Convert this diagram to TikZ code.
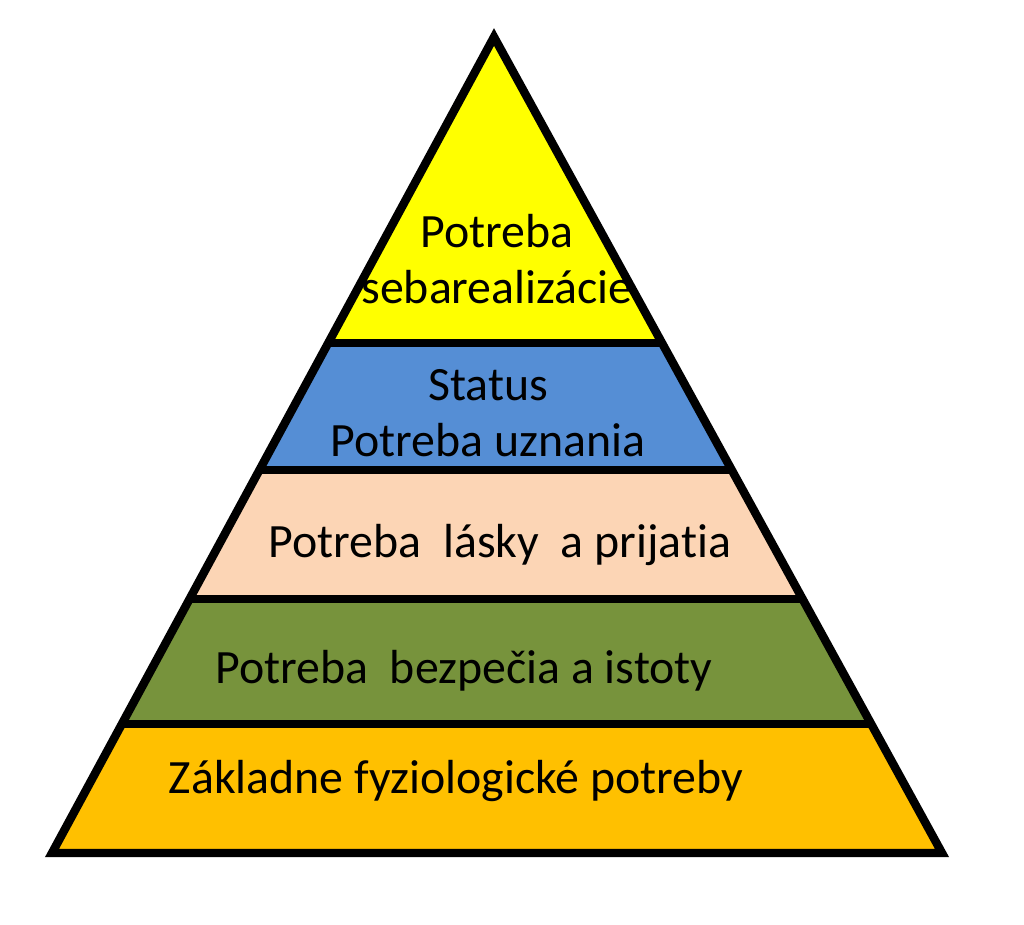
\documentclass[tikz,border=0pt]{standalone}
\usepackage{fontspec}
\setmainfont{Carlito}[Ligatures=NoCommon]
\definecolor{selfcol}{HTML}{FFFF00}
\definecolor{statcol}{HTML}{558ED5}
\definecolor{lovecol}{HTML}{FCD5B5}
\definecolor{safecol}{HTML}{77933C}
\definecolor{basecol}{HTML}{FFC000}
\tikzset{
	edge/.style={line width=2.4pt},
	lbl/.style={font=\fontsize{13.6}{16}\selectfont, align=center, text=black, inner sep=0pt}
}
\begin{document}
\begin{tikzpicture}[x=0.01cm,y=0.01cm]
				\useasboundingbox (0,0) rectangle (1024,924);
				\coordinate (a0) at (494,887);
				\coordinate (l1) at (328,581);
				\coordinate (r1) at (662,581);
				\coordinate (l2) at (260,454);
				\coordinate (r2) at (732,454);
				\coordinate (l3) at (190,325);
				\coordinate (r3) at (802,325);
				\coordinate (l4) at (122,200);
				\coordinate (r4) at (871,200);
				\coordinate (l5) at (52,71);
				\coordinate (r5) at (942,71);
				%
				\fill[selfcol] (a0) -- (l1) -- (r1) -- cycle;
				\fill[statcol] (l1) -- (l2) -- (r2) -- (r1) -- cycle;
				\fill[lovecol] (l2) -- (l3) -- (r3) -- (r2) -- cycle;
				\fill[safecol] (l3) -- (l4) -- (r4) -- (r3) -- cycle;
				\fill[basecol] (l4) -- (l5) -- (r5) -- (r4) -- cycle;
				%
				\draw[edge] (a0) -- (l5) -- (r5) -- cycle;
				\foreach \i in {1,...,4}
				\draw[edge] (l\i) -- (r\i);
				%
				\node[lbl] (t1) at (497,665) {Potreba\\sebarealizácie};
				\node[lbl] (t2) at (488,511) {Status\\Potreba uznania};
				\node[lbl] (t3) at (500,379) {Potreba~ lásky~ a prijatia};
				\node[lbl] (t4) at (464,253) {Potreba~ bezpečia a istoty};
				\node[lbl] (t5) at (456,143) {Základne fyziologické potreby};
			\end{tikzpicture}
\end{document}
